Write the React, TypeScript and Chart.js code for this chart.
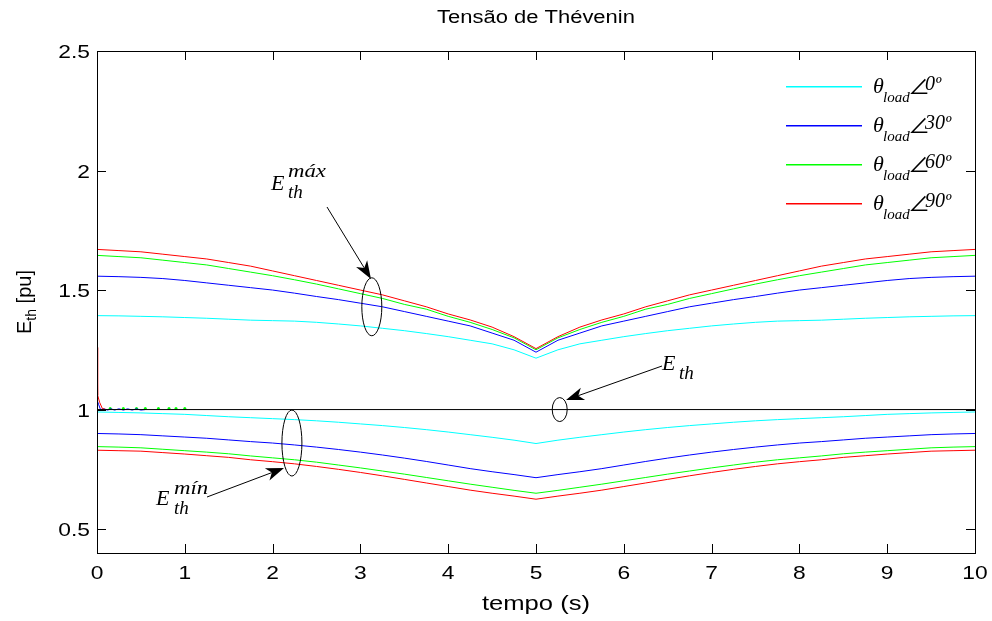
import React, { useEffect, useRef } from 'react';
import { Chart, registerables } from 'chart.js';

Chart.register(...registerables);

// ---------- data ----------
const TIME = [0, 0.25, 0.5, 0.75, 1, 1.25, 1.5, 1.75, 2, 2.25, 2.5, 2.75, 3, 3.25, 3.5, 3.75, 4, 4.25, 4.5, 4.75, 5,
  5.25, 5.5, 5.75, 6, 6.25, 6.5, 6.75, 7, 7.25, 7.5, 7.75, 8, 8.25, 8.5, 8.75, 9, 9.25, 9.5, 9.75, 10];

const UPPER_0 = [1.393, 1.392, 1.39, 1.388, 1.385, 1.382, 1.378, 1.374, 1.372, 1.37, 1.365, 1.358, 1.35, 1.34, 1.33, 1.318, 1.305, 1.29, 1.275, 1.25, 1.215,
  1.25, 1.275, 1.29, 1.305, 1.318, 1.33, 1.34, 1.35, 1.358, 1.365, 1.37, 1.372, 1.374, 1.378, 1.382, 1.385, 1.388, 1.39, 1.392, 1.393];
const UPPER_30 = [1.558, 1.556, 1.553, 1.548, 1.54, 1.53, 1.52, 1.51, 1.5, 1.487, 1.473, 1.46, 1.445, 1.43, 1.41, 1.39, 1.37, 1.35, 1.32, 1.29, 1.24,
  1.29, 1.32, 1.35, 1.37, 1.39, 1.41, 1.43, 1.445, 1.46, 1.473, 1.487, 1.5, 1.51, 1.52, 1.53, 1.54, 1.548, 1.553, 1.556, 1.558];
const UPPER_60 = [1.645, 1.64, 1.635, 1.625, 1.615, 1.605, 1.59, 1.575, 1.56, 1.543, 1.525, 1.505, 1.485, 1.465, 1.44, 1.42, 1.39, 1.365, 1.335, 1.3, 1.25,
  1.3, 1.335, 1.365, 1.39, 1.42, 1.44, 1.465, 1.485, 1.505, 1.525, 1.543, 1.56, 1.575, 1.59, 1.605, 1.615, 1.625, 1.635, 1.64, 1.645];
const UPPER_90 = [1.67, 1.665, 1.66, 1.65, 1.64, 1.63, 1.615, 1.6, 1.58, 1.56, 1.54, 1.52, 1.5, 1.48, 1.455, 1.43, 1.4, 1.375, 1.345, 1.305, 1.255,
  1.305, 1.345, 1.375, 1.4, 1.43, 1.455, 1.48, 1.5, 1.52, 1.54, 1.56, 1.58, 1.6, 1.615, 1.63, 1.64, 1.65, 1.66, 1.665, 1.67];

const LOWER_0 = [0.99, 0.988, 0.986, 0.983, 0.98, 0.975, 0.97, 0.966, 0.962, 0.958, 0.953, 0.947, 0.94, 0.933, 0.925, 0.916, 0.906, 0.895, 0.884, 0.872, 0.858,
  0.872, 0.884, 0.895, 0.906, 0.916, 0.925, 0.933, 0.94, 0.947, 0.953, 0.958, 0.962, 0.966, 0.97, 0.975, 0.98, 0.983, 0.986, 0.988, 0.99];
const LOWER_30 = [0.9, 0.898, 0.895, 0.89, 0.885, 0.88, 0.873, 0.866, 0.86, 0.852, 0.843, 0.833, 0.822, 0.81, 0.797, 0.783, 0.768, 0.753, 0.74, 0.728, 0.715,
  0.728, 0.74, 0.753, 0.768, 0.783, 0.797, 0.81, 0.822, 0.833, 0.843, 0.852, 0.86, 0.866, 0.873, 0.88, 0.885, 0.89, 0.895, 0.898, 0.9];
const LOWER_60 = [0.845, 0.843, 0.84, 0.834, 0.828, 0.822, 0.815, 0.806, 0.798, 0.79, 0.78, 0.768, 0.756, 0.743, 0.73, 0.716, 0.702, 0.688, 0.675, 0.662, 0.65,
  0.662, 0.675, 0.688, 0.702, 0.716, 0.73, 0.743, 0.756, 0.768, 0.78, 0.79, 0.798, 0.806, 0.815, 0.822, 0.828, 0.834, 0.84, 0.843, 0.845];
const LOWER_90 = [0.83, 0.828, 0.826, 0.82, 0.814, 0.807, 0.8, 0.79, 0.782, 0.773, 0.762, 0.75, 0.737, 0.723, 0.708, 0.693, 0.678, 0.663, 0.65, 0.638, 0.625,
  0.638, 0.65, 0.663, 0.678, 0.693, 0.708, 0.723, 0.737, 0.75, 0.762, 0.773, 0.782, 0.79, 0.8, 0.807, 0.814, 0.82, 0.826, 0.828, 0.83];

const ETH_TIME = [0, 10];
const ETH_VALUE = [1, 1];

const RED_TRANSIENT_T = [0, 0.005, 0.01, 0.03, 0.06, 0.1];
const RED_TRANSIENT_V = [1.26, 1.1, 1.06, 1.03, 1.005, 1.0];
const BLUE_TRANSIENT_T = [0, 0.02, 0.04, 0.08, 0.12, 0.16, 0.2, 0.25, 0.3, 0.35, 0.4, 0.45, 0.5, 0.55];
const BLUE_TRANSIENT_V = [1.04, 1.02, 1.0, 1.003, 0.998, 1.003, 0.998, 1.003, 0.998, 1.003, 0.998, 1.003, 0.998, 1.0];
const GREEN_DOTS_T = [0.15, 0.3, 0.45, 0.55, 0.7, 0.82, 0.9, 1.0];
const GREEN_DOTS_V = [1.004, 1.004, 1.004, 1.004, 1.004, 1.004, 1.004, 1.004];

const X_TICKS = [0, 1, 2, 3, 4, 5, 6, 7, 8, 9, 10];
const Y_TICKS = [0.5, 1, 1.5, 2, 2.5];
const LEGEND_ANGLES = ['0º', '30º', '60º', '90º'];
const SERIES_COLORS = ['#00FFFF', '#0000FF', '#00FF00', '#FF0000'];

const TITLE = 'Tensão de Thévenin';
const X_TITLE = 'tempo (s)';

const pts = (t: number[], v: number[]) => t.map((x, i) => ({ x, y: v[i] }));

function txt(ctx: CanvasRenderingContext2D, s: string, x: number, y: number, font: string,
  align: 'left' | 'center' | 'right' = 'left', baseline: CanvasTextBaseline = 'alphabetic', sx = 1) {
  ctx.save();
  ctx.font = font;
  ctx.textAlign = 'left';
  ctx.textBaseline = baseline;
  const w = ctx.measureText(s).width * sx;
  const x0 = align === 'center' ? x - w / 2 : align === 'right' ? x - w : x;
  ctx.translate(x0, y);
  ctx.scale(sx, 1);
  ctx.fillStyle = '#000';
  ctx.fillText(s, 0, 0);
  ctx.restore();
  return w;
}

function arrow(ctx: CanvasRenderingContext2D, x1: number, y1: number, x2: number, y2: number) {
  const ang = Math.atan2(y2 - y1, x2 - x1);
  const L = 18, W = 6.5, N = 13;
  const bx = x2 - L * Math.cos(ang), by = y2 - L * Math.sin(ang);
  const nx = x2 - N * Math.cos(ang), ny = y2 - N * Math.sin(ang);
  ctx.save();
  ctx.strokeStyle = '#000';
  ctx.fillStyle = '#000';
  ctx.lineWidth = 1;
  ctx.beginPath();
  ctx.moveTo(x1, y1);
  ctx.lineTo(nx, ny);
  ctx.stroke();
  ctx.beginPath();
  ctx.moveTo(x2, y2);
  ctx.lineTo(bx - W * Math.sin(ang), by + W * Math.cos(ang));
  ctx.lineTo(nx, ny);
  ctx.lineTo(bx + W * Math.sin(ang), by - W * Math.cos(ang));
  ctx.closePath();
  ctx.fill();
  ctx.restore();
}

const SANS = '"Liberation Sans", Arial, sans-serif';
const SERIF = '"Liberation Serif", "Times New Roman", serif';

const decorPlugin = {
  id: 'decor',
  afterDraw(chart: any) {
    const ctx: CanvasRenderingContext2D = chart.ctx;
    const a = chart.chartArea;
    const xs = chart.scales.x;
    const ys = chart.scales.y;
    ctx.save();
    ctx.strokeStyle = '#000';
    ctx.lineWidth = 1;
    // box
    ctx.strokeRect(Math.round(a.left) + 0.5, Math.round(a.top) + 0.5, Math.round(a.right - a.left), Math.round(a.bottom - a.top));
    // inward ticks
    ctx.beginPath();
    X_TICKS.forEach((v) => {
      const px = Math.round(xs.getPixelForValue(v)) + 0.5;
      ctx.moveTo(px, a.bottom); ctx.lineTo(px, a.bottom - 9);
      ctx.moveTo(px, a.top); ctx.lineTo(px, a.top + 9);
    });
    Y_TICKS.forEach((v) => {
      const py = Math.round(ys.getPixelForValue(v)) + 0.5;
      ctx.moveTo(a.left, py); ctx.lineTo(a.left + 9, py);
      ctx.moveTo(a.right, py); ctx.lineTo(a.right - 9, py);
    });
    ctx.stroke();
    // tick labels
    X_TICKS.forEach((v) => {
      txt(ctx, String(v), xs.getPixelForValue(v), a.bottom + 21, `19px ${SANS}`, 'center', 'middle', 1.2);
    });
    Y_TICKS.forEach((v) => {
      txt(ctx, String(v), a.left - 7, ys.getPixelForValue(v) + 2, `19px ${SANS}`, 'right', 'middle', 1.2);
    });
    // titles
    txt(ctx, TITLE, (a.left + a.right) / 2, 18, `18px ${SANS}`, 'center', 'middle', 1.22);
    txt(ctx, X_TITLE, (a.left + a.right) / 2, 604, `20px ${SANS}`, 'center', 'middle', 1.28);
    // y title rotated
    ctx.save();
    ctx.translate(24, (a.top + a.bottom) / 2);
    ctx.rotate(-Math.PI / 2);
    ctx.font = `20px ${SANS}`;
    const wE = ctx.measureText('E').width;
    ctx.font = `14px ${SANS}`;
    const wTh = ctx.measureText('th').width;
    ctx.font = `20px ${SANS}`;
    const wPu = ctx.measureText(' [pu]').width;
    const total = wE + wTh + wPu;
    let cx = -total / 2;
    txt(ctx, 'E', cx, 7, `20px ${SANS}`); cx += wE;
    txt(ctx, 'th', cx, 12, `14px ${SANS}`); cx += wTh;
    txt(ctx, ' [pu]', cx, 7, `20px ${SANS}`);
    ctx.restore();

    // legend
    LEGEND_ANGLES.forEach((lab, i) => {
      const ly = 86 + i * 39;
      ctx.save();
      ctx.fillStyle = SERIES_COLORS[i];
      ctx.fillRect(786, ly, 76, 1.5);
      ctx.restore();
      txt(ctx, 'θ', 873, ly + 7, `italic 22px ${SERIF}`);
      txt(ctx, 'load', 883, ly + 16, `italic 15px ${SERIF}`);
      txt(ctx, '∠', 908, ly + 8, `22px "Noto Sans CJK JP", "DejaVu Sans", sans-serif`);
      txt(ctx, lab, 925, ly + 4, `italic 20px ${SERIF}`);
    });

    // annotations: ellipses
    const ell = (t: number, v: number, rx: number, ry: number) => {
      ctx.beginPath();
      ctx.ellipse(xs.getPixelForValue(t), ys.getPixelForValue(v), rx, ry, 0, 0, Math.PI * 2);
      ctx.stroke();
    };
    ell(3.13, 1.43, 10, 29);
    ell(2.22, 0.86, 10, 33);
    ell(5.27, 1.0, 7.5, 12);

    arrow(ctx, 327, 207, 371, 279);
    arrow(ctx, 207, 497, 284, 468);
    arrow(ctx, 662, 366, 566, 400);

    // labels
    txt(ctx, 'E', 271, 190, `italic 22px ${SERIF}`);
    txt(ctx, 'máx', 288, 177, `italic 19px ${SERIF}`, 'left', 'alphabetic', 1.2);
    txt(ctx, 'th', 288, 198, `italic 19px ${SERIF}`);

    txt(ctx, 'E', 156, 505, `italic 22px ${SERIF}`);
    txt(ctx, 'mín', 174, 494, `italic 19px ${SERIF}`, 'left', 'alphabetic', 1.2);
    txt(ctx, 'th', 174, 514, `italic 19px ${SERIF}`);

    txt(ctx, 'E', 662, 370, `italic 22px ${SERIF}`);
    txt(ctx, 'th', 679, 379, `italic 19px ${SERIF}`);

    ctx.restore();
  },
};

export default function App() {
  const ref = useRef<HTMLCanvasElement | null>(null);
  useEffect(() => {
    document.body.style.margin = '0';
    if (!ref.current) return;
    const line = (label: string, data: any[], color: string, extra: any = {}) => ({
      label, data, borderColor: color, backgroundColor: color, borderWidth: 1,
      pointRadius: 0, tension: 0, fill: false, ...extra,
    });
    const chart = new Chart(ref.current, {
      type: 'line',
      data: {
        datasets: [
          line('Eth', pts(ETH_TIME, ETH_VALUE), '#000000'),
          line('upper 90', pts(TIME, UPPER_90), SERIES_COLORS[3]),
          line('upper 60', pts(TIME, UPPER_60), SERIES_COLORS[2]),
          line('upper 30', pts(TIME, UPPER_30), SERIES_COLORS[1]),
          line('upper 0', pts(TIME, UPPER_0), SERIES_COLORS[0]),
          line('lower 90', pts(TIME, LOWER_90), SERIES_COLORS[3]),
          line('lower 60', pts(TIME, LOWER_60), SERIES_COLORS[2]),
          line('lower 30', pts(TIME, LOWER_30), SERIES_COLORS[1]),
          line('lower 0', pts(TIME, LOWER_0), SERIES_COLORS[0]),
          line('red transient', pts(RED_TRANSIENT_T, RED_TRANSIENT_V), SERIES_COLORS[3]),
          line('blue transient', pts(BLUE_TRANSIENT_T, BLUE_TRANSIENT_V), SERIES_COLORS[1]),
          line('green dots', pts(GREEN_DOTS_T, GREEN_DOTS_V), SERIES_COLORS[2], { showLine: false, pointRadius: 1.5, pointBorderWidth: 0 }),
        ],
      },
      options: {
        animation: false,
        responsive: false,
        devicePixelRatio: 1,
        layout: { padding: { top: 51, right: 17, left: 0, bottom: 0 } },
        plugins: { legend: { display: false }, title: { display: false }, tooltip: { enabled: false } },
        scales: {
          x: {
            type: 'linear', min: 0, max: 10,
            ticks: { display: false },
            grid: { display: false },
            border: { display: false },
            afterBuildTicks: (s: any) => { s.ticks = X_TICKS.map((v) => ({ value: v })); },
            afterFit: (s: any) => { s.height = 68; },
          },
          y: {
            type: 'linear', min: 0.4, max: 2.5,
            ticks: { display: false },
            grid: { display: false },
            border: { display: false },
            afterBuildTicks: (s: any) => { s.ticks = Y_TICKS.map((v) => ({ value: v })); },
            afterFit: (s: any) => { s.width = 97; },
          },
        },
      } as any,
      plugins: [decorPlugin],
    });
    return () => chart.destroy();
  }, []);
  return (
    <div style={{ width: 992, height: 621, background: '#fff' }}>
      <canvas ref={ref} width={992} height={621} style={{ display: 'block', width: 992, height: 621 }} />
    </div>
  );
}
